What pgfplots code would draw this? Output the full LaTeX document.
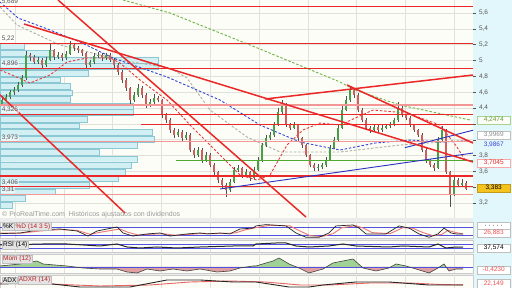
\documentclass[border=0pt]{standalone}
\usepackage{fontspec}
\setmainfont{Liberation Sans}
\usepackage{pgfplots}
\pgfplotsset{compat=1.18}
\usepackage{pgfplotstable}

\definecolor{bgc}{RGB}{253,253,247}
\definecolor{sepc}{RGB}{236,236,236}
\definecolor{cyanpanel}{RGB}{226,247,251}
\definecolor{gridc}{RGB}{226,226,218}
\definecolor{srred}{RGB}{235,40,40}
\definecolor{srpink}{RGB}{242,150,150}
\definecolor{vpfill}{RGB}{210,239,244}
\definecolor{vpdraw}{RGB}{140,200,212}
\definecolor{upc}{RGB}{70,160,70}
\definecolor{dnc}{RGB}{205,95,95}
\definecolor{wickc}{RGB}{80,80,80}
\definecolor{maG}{RGB}{110,180,70}
\definecolor{maB}{RGB}{50,70,215}
\definecolor{maGr}{RGB}{175,175,165}
\definecolor{maR}{RGB}{228,60,60}
\definecolor{txtgrey}{RGB}{85,85,85}
\definecolor{indblue}{RGB}{80,80,225}
\definecolor{trendblue}{RGB}{40,50,190}
\definecolor{sgreen}{RGB}{80,170,50}
\definecolor{momg}{RGB}{160,210,150}
\definecolor{momr}{RGB}{225,160,160}
\definecolor{lastc}{RGB}{245,195,30}
\definecolor{boxgrey}{RGB}{228,228,228}
\newcommand{\ff}{\fontsize{6.5}{7.5}\selectfont}
\newcommand{\vgrid}[2]{\pgfplotsinvokeforeach{15,63.8,112.6,161.4,210.2,259,307.8,356.6,405.4,454.2}{\addplot[gridc, line width=0.5pt] coordinates {(##1,#1)(##1,#2)};}}

\pgfplotstableread{
x o h l c
2 4.450 4.55 4.42 4.501
6 4.501 4.58 4.48 4.539
10 4.539 4.63 4.51 4.602
14 4.602 4.66 4.57 4.628
18 4.628 4.73 4.60 4.691
22 4.691 4.82 4.67 4.779
26 4.779 5.12 4.76 5.070
38 4.981 5.04 4.95 5.006
46 4.943 5.05 4.92 5.006
50 5.006 5.22 4.99 5.133
58 5.044 5.11 5.02 5.070
66 5.032 5.12 5.01 5.082
70 5.082 5.25 5.07 5.196
90 4.943 5.01 4.92 4.981
94 4.981 5.09 4.96 5.057
98 5.057 5.11 5.03 5.070
106 5.032 5.10 5.01 5.070
134 4.501 4.60 4.47 4.565
138 4.565 4.70 4.54 4.653
150 4.438 4.51 4.41 4.476
154 4.476 4.58 4.45 4.527
178 4.059 4.14 4.03 4.097
186 4.022 4.10 4.00 4.059
198 3.807 3.91 3.78 3.870
206 3.744 3.85 3.72 3.807
230 3.365 3.50 3.34 3.466
234 3.466 3.66 3.45 3.617
238 3.617 3.68 3.59 3.643
246 3.554 3.63 3.53 3.592
254 3.517 3.65 3.50 3.617
258 3.617 3.78 3.60 3.744
262 3.744 3.96 3.72 3.933
266 3.933 4.06 3.91 4.022
270 4.022 4.10 4.00 4.059
274 4.059 4.22 4.04 4.186
278 4.186 4.40 4.17 4.350
282 4.350 4.50 4.33 4.438
294 4.148 4.22 4.13 4.186
318 3.643 3.69 3.61 3.660
322 3.660 3.71 3.63 3.681
326 3.681 3.78 3.66 3.744
330 3.744 3.93 3.73 3.895
334 3.895 4.03 3.88 3.996
338 3.996 4.18 3.98 4.148
342 4.148 4.42 4.13 4.375
346 4.375 4.55 4.36 4.501
350 4.501 4.67 4.48 4.628
374 4.123 4.19 4.10 4.160
382 4.123 4.18 4.10 4.148
386 4.148 4.20 4.13 4.173
390 4.173 4.22 4.15 4.186
394 4.186 4.28 4.17 4.249
398 4.249 4.47 4.23 4.400
438 3.643 4.03 3.63 3.996
442 3.996 4.17 3.98 4.123
454 3.306 3.55 3.29 3.491
462 3.428 3.50 3.41 3.453
}\upc

\pgfplotstableread{
x o h l c
30 5.070 5.10 5.00 5.044
34 5.044 5.07 4.95 4.981
42 5.006 5.03 4.91 4.943
54 5.133 5.15 5.01 5.044
62 5.070 5.09 5.00 5.032
74 5.196 5.22 5.12 5.158
78 5.158 5.18 5.10 5.133
82 5.133 5.15 5.06 5.095
86 5.095 5.11 4.91 4.943
102 5.070 5.09 5.00 5.032
110 5.070 5.09 4.98 5.006
114 5.006 5.03 4.91 4.943
118 4.943 4.97 4.82 4.855
122 4.855 4.88 4.72 4.754
126 4.754 4.78 4.62 4.653
130 4.653 4.67 4.45 4.501
142 4.653 4.68 4.53 4.565
146 4.565 4.59 4.40 4.438
158 4.527 4.55 4.47 4.501
162 4.501 4.52 4.28 4.312
166 4.312 4.34 4.21 4.249
170 4.249 4.27 4.09 4.123
174 4.123 4.15 4.02 4.059
182 4.097 4.12 3.99 4.022
190 4.059 4.08 3.84 3.870
194 3.870 3.90 3.77 3.807
202 3.870 3.89 3.71 3.744
210 3.807 3.83 3.65 3.681
214 3.681 3.70 3.56 3.592
218 3.592 3.61 3.45 3.491
222 3.491 3.52 3.39 3.428
226 3.428 3.45 3.28 3.365
242 3.643 3.66 3.52 3.554
250 3.592 3.61 3.48 3.517
286 4.438 4.46 4.16 4.186
290 4.186 4.21 4.12 4.148
298 4.186 4.20 3.99 4.022
302 4.022 4.04 3.90 3.933
306 3.933 3.95 3.78 3.807
310 3.807 3.82 3.65 3.681
314 3.681 3.70 3.60 3.643
354 4.628 4.65 4.53 4.565
358 4.565 4.59 4.35 4.375
362 4.375 4.40 4.22 4.249
366 4.249 4.27 4.12 4.148
370 4.148 4.17 4.09 4.123
378 4.160 4.18 4.10 4.123
402 4.400 4.42 4.29 4.312
406 4.312 4.33 4.25 4.274
410 4.274 4.30 4.16 4.186
414 4.186 4.20 4.10 4.123
418 4.123 4.14 4.03 4.059
422 4.059 4.08 3.84 3.870
426 3.870 3.89 3.71 3.744
430 3.744 3.76 3.65 3.681
434 3.681 3.70 3.61 3.643
446 4.123 4.13 3.57 3.592
450 3.592 3.60 3.15 3.306
458 3.491 3.52 3.40 3.428
466 3.453 3.48 3.36 3.383
}\dnc

\pgfplotstableread{
p len
3.176 12
3.259 25
3.343 55
3.426 89
3.509 118
3.593 125
3.676 131
3.759 137
3.843 99
3.926 137
4.009 154
4.093 152
4.176 79
4.259 87
4.343 133
4.426 133
4.509 70
4.593 72
4.676 70
4.759 60
4.843 88
4.926 158
5.009 158
5.093 53
5.176 24
}\vp

\pgfplotsset{
 base/.style={scale only axis, width=473pt, xmin=0, xmax=473,
   axis background/.style={fill=bgc}, xtick=\empty},
 sub/.style={base, ytick=\empty, axis line style={draw=gray!40, line width=0.4pt}},
}

\begin{document}
\begin{tikzpicture}
\fill[sepc] (0pt,0pt) rectangle (512pt,288pt);
\fill[cyanpanel] (473pt,0pt) rectangle (512pt,288pt);
\clip (0pt,0pt) rectangle (512pt,288pt);

% ---------------- main price panel
\begin{axis}[base, at={(0pt,70pt)}, anchor=south west, height=218pt,
 ymin=3.012, ymax=5.764, axis line style={draw=none},
 ytick={3.2,3.4,3.6,3.8,4,4.2,4.4,4.6,4.8,5,5.2,5.4,5.6},
 yticklabels={{3,2},{},{3,6},{3,8},{},{},{4,4},{4,6},{4,8},{5},{5,2},{5,4},{5,6}},
 ymajorgrids, grid style={gridc, line width=0.5pt},
 ytick pos=right, yticklabel pos=right,
 y tick style={draw=txtgrey, line width=0.4pt},
 tick align=outside, major tick length=2.5pt,
 yticklabel style={font=\ff, text=txtgrey}]

\vgrid{3.012}{5.764}
\addplot[xbar, bar width=5.8pt, fill=vpfill, draw=vpdraw, line width=0.4pt] table[x=len, y=p] {\vp};

% moving averages
\addplot[maG, line width=0.9pt, dash pattern=on 2.5pt off 1.8pt] coordinates {(123,5.764)(170,5.600)(255,5.171)(340,4.729)(355,4.628)(400,4.438)(470,4.249)};
\addplot[maGr, line width=0.9pt, dash pattern=on 2.5pt off 1.8pt] coordinates {(0,5.676)(17,5.448)(60,5.196)(120,5.006)(170,4.905)(187,4.779)(210,4.375)(247,4.034)(280,3.845)(340,3.845)(400,3.933)(470,3.996)};
\addplot[maB, line width=0.9pt, dash pattern=on 2.5pt off 1.8pt] coordinates {(0,5.739)(18,5.537)(45,5.410)(80,5.234)(113,5.032)(167,4.792)(220,4.501)(260,4.186)(300,3.971)(340,3.870)(375,3.958)(410,3.996)(440,3.971)(470,3.984)};
\addplot[maR, line width=0.9pt, dash pattern=on 2.5pt off 1.8pt] coordinates {(0,4.88)(12,4.817)(30,4.716)(50,4.817)(67,4.981)(87,5.032)(110,5.032)(120,4.969)(140,4.754)(167,4.501)(190,4.186)(220,3.807)(240,3.554)(257,3.491)(270,3.554)(287,3.933)(303,4.123)(320,4.211)(340,4.186)(373,4.375)(407,4.337)(440,4.186)(457,3.908)(465,3.744)};

% candles
\addplot[-, wickc, line width=0.6pt, quiver={u=0, v=\thisrow{h}-\thisrow{l}}] table[x=x, y=l] {\upc};
\addplot[-, wickc, line width=0.6pt, quiver={u=0, v=\thisrow{h}-\thisrow{l}}] table[x=x, y=l] {\dnc};
\addplot[-, upc, line width=2.4pt, quiver={u=0, v=\thisrow{c}-\thisrow{o}}] table[x=x, y=o] {\upc};
\addplot[-, dnc, line width=2.4pt, quiver={u=0, v=\thisrow{c}-\thisrow{o}}] table[x=x, y=o] {\dnc};

% horizontal support / resistance lines
\addplot[srred, line width=0.8pt] coordinates {(0,5.689)(473,5.689)};
\addplot[srred, line width=0.8pt] coordinates {(0,5.221)(473,5.221)};
\addplot[srred, line width=1.3pt] coordinates {(0,4.896)(473,4.896)};
\addplot[srpink, line width=1.1pt] coordinates {(0,4.438)(473,4.438)};
\addplot[srred, line width=0.8pt] coordinates {(0,4.326)(473,4.326)};
\addplot[srred, line width=0.8pt] coordinates {(141,4.198)(473,4.198)};
\addplot[srpink, line width=1.1pt] coordinates {(0,3.973)(473,3.973)};
\addplot[srred, line width=1.3pt] coordinates {(0,3.542)(473,3.542)};
\addplot[srred, line width=1.0pt] coordinates {(0,3.406)(473,3.406)};
\addplot[srpink, line width=1.0pt] coordinates {(0,3.310)(473,3.310)};

\addplot[sgreen, line width=1pt] coordinates {(176,3.744)(473,3.744)};
\addplot[trendblue, line width=0.9pt] coordinates {(220,3.378)(473,3.832)};
\addplot[trendblue, line width=0.9pt] coordinates {(405,3.90)(473,4.12)};

% thick trend lines
\addplot[srred, line width=1.5pt] coordinates {(58,5.764)(306,3.024)};
\addplot[srred, line width=1.5pt] coordinates {(24,5.461)(473,3.719)};
\addplot[srred, line width=1.5pt] coordinates {(265,4.514)(473,4.817)};
\addplot[srred, line width=1.5pt] coordinates {(347,4.691)(473,3.958)};
\addplot[srred, line width=1.5pt] coordinates {(0,4.565)(125,3.075)};
\end{axis}

% ---------------- Stochastic
\begin{axis}[sub, at={(0pt,50pt)}, anchor=south west, height=16pt, ymin=-2.5, ymax=117.5]
\vgrid{-2.5}{117.5}
\addplot[indblue, line width=0.8pt] coordinates {(0,80)(473,80)};
\addplot[indblue, line width=0.8pt] coordinates {(0,20)(473,20)};
\addplot[maR!70, line width=0.9pt] coordinates {(0,35)(20,33)(40,50)(60,60)(77,55)(90,25)(100,40)(120,65)(128,40)(138,20)(150,25)(163,30)(175,18)(190,25)(203,32)(212,30)(225,32)(235,35)(245,58)(258,78)(270,93)(290,88)(300,50)(310,15)(322,8)(333,30)(342,75)(356,90)(364,70)(372,38)(390,30)(403,75)(413,70)(423,38)(433,15)(442,25)(448,55)(455,40)(463,27)};
\addplot[black!85, line width=0.7pt] coordinates {(0,30)(20,35)(40,60)(60,65)(77,50)(88,12)(97,50)(117,80)(123,35)(133,12)(147,28)(160,35)(170,12)(187,28)(200,35)(207,28)(220,35)(230,28)(240,65)(253,72)(256,88)(266,98)(286,88)(296,35)(306,3)(319,3)(329,35)(336,88)(353,95)(359,72)(366,28)(386,28)(399,88)(409,72)(419,28)(429,3)(438,28)(444,72)(451,35)(456,28)(463,28)};
\end{axis}

% ---------------- RSI
\begin{axis}[sub, at={(0pt,36pt)}, anchor=south west, height=12pt, ymin=-10, ymax=110]
\vgrid{-10}{110}
\addplot[indblue, line width=0.8pt] coordinates {(0,70)(473,70)};
\addplot[indblue, line width=0.8pt] coordinates {(0,30)(473,30)};
\addplot[black!85, line width=1.0pt] coordinates {(0,60)(43,70)(67,70)(100,50)(117,70)(127,40)(140,30)(157,40)(177,30)(200,40)(233,50)(253,50)(256,70)(276,80)(286,80)(296,50)(309,40)(329,50)(343,70)(356,50)(389,40)(403,50)(429,40)(438,70)(446,30)(456,40)(463,37.6)};
\end{axis}

% ---------------- Momentum
\begin{axis}[sub, at={(0pt,14.5pt)}, anchor=south west, height=19.5pt, ymin=-0.65, ymax=1.3]
\vgrid{-0.65}{1.3}
\addplot[fill=momg, draw=none] coordinates {(0,0)(0,0.1)(20,0.3)(37,0.6)(43,0.3)(67,0.1)(75,0)(246.5,0)(253,0.1)(256,0.1)(266,0.4)(273,0.6)(279,0.9)(289,0.3)(296.5,0)(326.3,0)(333,0.4)(343,0.6)(353,0.8)(361.9,0)(390.75,0)(396,0.3)(406,0.1)(409.3,0)(439.5,0)(444,0.3)(446.1,0)(463,0)};
\addplot[fill=momr, draw=none] coordinates {(0,0)(75,0)(83,-0.1)(100,-0.2)(117,-0.2)(127,-0.5)(137,-0.6)(147,-0.2)(160,-0.4)(173,-0.2)(187,-0.4)(200,-0.2)(217,-0.5)(230,-0.4)(240,-0.1)(246.5,0)(296.5,0)(299,-0.1)(309,-0.6)(323,-0.2)(326.3,0)(361.9,0)(363,-0.1)(376,-0.4)(389,-0.1)(390.75,0)(409.3,0)(416,-0.2)(429,-0.6)(438,-0.1)(439.5,0)(446.1,0)(449,-0.4)(456,-0.2)(463,-0.2)(463,0)};
\addplot[indblue, line width=0.8pt] coordinates {(0,0)(473,0)};
\addplot[black!75, line width=0.6pt] coordinates {(0,0.1)(20,0.3)(37,0.6)(43,0.3)(67,0.1)(83,-0.1)(100,-0.2)(117,-0.2)(127,-0.5)(137,-0.6)(147,-0.2)(160,-0.4)(173,-0.2)(187,-0.4)(200,-0.2)(217,-0.5)(230,-0.4)(240,-0.1)(253,0.1)(256,0.1)(266,0.4)(273,0.6)(279,0.9)(289,0.3)(299,-0.1)(309,-0.6)(323,-0.2)(333,0.4)(343,0.6)(353,0.8)(363,-0.1)(376,-0.4)(389,-0.1)(396,0.3)(406,0.1)(416,-0.2)(429,-0.6)(438,-0.1)(444,0.3)(449,-0.4)(456,-0.2)(463,-0.2)};
\end{axis}

% ---------------- ADX
\begin{axis}[sub, at={(0pt,0pt)}, anchor=south west, height=13pt, ymin=16, ymax=42]
\vgrid{16}{42}
\addplot[maR!80, line width=0.9pt] coordinates {(0,26)(50,24)(100,20)(150,22)(190,28)(230,30)(265,28)(300,22)(330,22)(370,26)(410,26)(440,23)(463,22.149)};
\addplot[black!85, line width=0.9pt] coordinates {(0,24)(43,26)(80,18)(130,18)(167,32)(200,32)(233,28)(256,28)(289,18)(309,18)(323,22)(356,28)(389,28)(429,22)(463,22)};
\end{axis}

% ---------------- text overlays
\tikzset{lbl/.style={anchor=south west, font=\ff, text=txtgrey, fill=white, fill opacity=0.6, text opacity=1, inner sep=0.6pt}}
\node[lbl] at (1pt,282.5pt) {5,689};
\node[lbl] at (1pt,245.5pt) {5,22};
\node[lbl] at (1pt,220.5pt) {4,896};
\node[lbl] at (1pt,174.5pt) {4,326};
\node[lbl] at (1pt,146.5pt) {3,973};
\node[lbl] at (1pt,101.5pt) {3,406};
\node[lbl] at (1pt,94.5pt) {3,31};
\node[anchor=west, font=\fontsize{7}{8}\selectfont, text=gray!80, inner sep=0pt] at (2pt,73.5pt) {© ProRealTime.com\ \ Históricos ajustados con dividendos};

\tikzset{vb/.style={anchor=west, font=\ff, inner sep=1pt, minimum height=8.5pt, minimum width=33pt}}
\node[vb, draw=maG!60, fill=bgc, text=maG!85!black] at (477pt,168pt) {4,2474};
\node[vb, draw=gray!50, fill=white, text=gray!90] at (477pt,153pt) {3,9969};
\node[vb, text=maB] at (477pt,143pt) {3,9867};
\node[vb, draw=srred!40, fill=white, text=srred] at (477pt,125pt) {3,7045};
\node[vb, draw=lastc!80!black, fill=lastc, text=black] at (477pt,100pt) {3,383};

\tikzset{pl/.style={anchor=west, font=\ff, fill=boxgrey, draw=gray!50, line width=0.3pt, inner sep=1pt}}
\node[pl, text=black] (k) at (2pt,61.5pt) {\%K};
\node[pl, text=srred!80!black, anchor=west] at (k.east) {\%D (14 3 5)};
\node[pl, text=black] at (2pt,43pt) {RSI (14)};
\node[pl, text=srred!80!black] at (2pt,29pt) {Mom (12)};
\node[pl, text=black] (a) at (2pt,8pt) {ADX};
\node[pl, text=srred!80!black, anchor=west] at (a.east) {ADXR (14)};

\node[vb, draw=gray!50, fill=white, text=black] at (477pt,62pt) {· · · · ·};
\node[vb, draw=gray!50, fill=white, text=srred!80] at (477pt,55pt) {26,883};
\node[vb, draw=gray!50, fill=white, text=black] at (477pt,40pt) {37,574};
\node[vb, draw=gray!50, fill=white, text=srred!80] at (477pt,18pt) {-0,4230};
\node[vb, draw=gray!50, fill=white, text=srred!80] at (477pt,4.5pt) {22,149};
\end{tikzpicture}
\end{document}
